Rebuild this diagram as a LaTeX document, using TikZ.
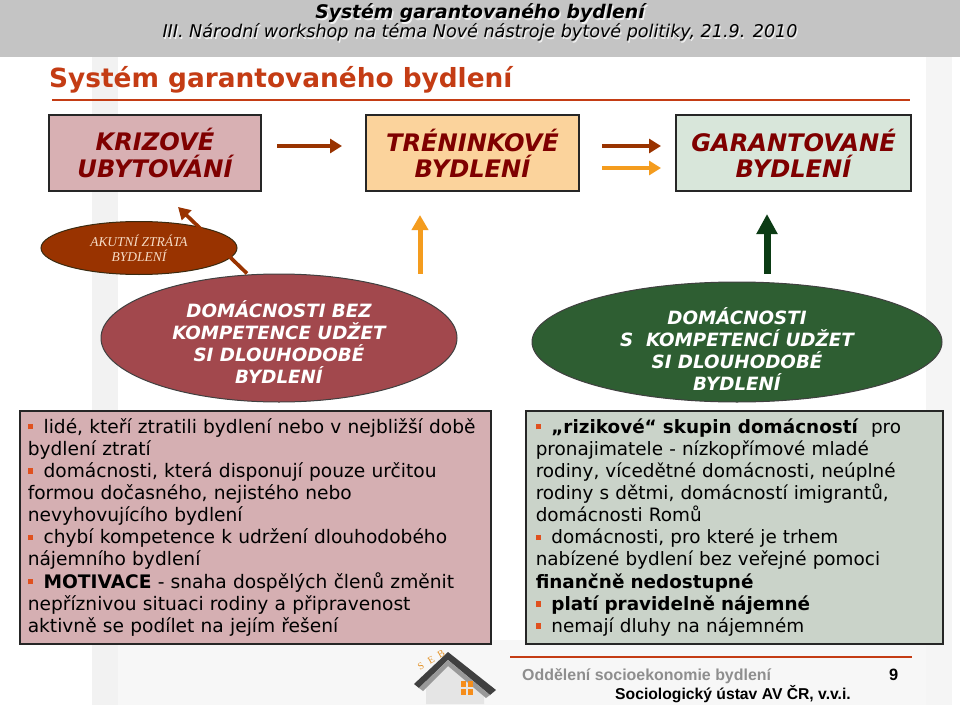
\documentclass[tikz,border=0pt]{standalone}
\usepackage{fontspec}
\setmainfont{DejaVu Sans}
\newfontfamily\arialf{Liberation Sans}
\newfontfamily\timesf{Liberation Serif}
\usetikzlibrary{shapes.geometric,arrows.meta,calc}
\definecolor{hdrgray}{HTML}{C4C4C4}
\definecolor{titleor}{HTML}{C43C14}
\definecolor{darkred}{HTML}{7F0000}
\definecolor{krizf}{HTML}{D8B0B3}
\definecolor{trenf}{HTML}{FBD39C}
\definecolor{garf}{HTML}{D8E6DA}
\definecolor{arrbrown}{HTML}{993300}
\definecolor{arrorange}{HTML}{F49C1E}
\definecolor{arrgreen}{HTML}{0B3B14}
\definecolor{akutf}{HTML}{993300}
\definecolor{akutb}{HTML}{3A2A10}
\definecolor{akutt}{HTML}{F6DCC6}
\definecolor{bezf}{HTML}{A2484D}
\definecolor{grnf}{HTML}{2E5E32}
\definecolor{lboxf}{HTML}{D5AFB2}
\definecolor{rboxf}{HTML}{CAD3C9}
\definecolor{bulc}{HTML}{E0501E}
\definecolor{footgray}{HTML}{8E8E8E}
\newcommand\bul{\textcolor{bulc}{\rule[0.2em]{0.3em}{0.3em}}\hspace{0.55em}}
\begin{document}
\begin{tikzpicture}[x=0.03cm,y=-0.03cm,
  hdrtitle/.style={font=\fontsize{16}{18}\selectfont\bfseries\itshape, inner sep=0pt},
  hdrsub/.style={font=\fontsize{15}{17}\selectfont\itshape, inner sep=0pt},
  stagebox/.style={draw=black!85, line width=0.06cm, align=center, text=darkred,
    font=\fontsize{20.6}{22.5}\selectfont\bfseries\itshape, inner sep=0pt,
    minimum height=76*0.03cm},
  ellnode/.style={ellipse, inner sep=0pt, line width=0.03cm},
  elltext/.style={align=center, text=white, inner sep=0pt,
    font=\fontsize{15.6}{19}\selectfont\bfseries\itshape},
  infobox/.style={draw=black!85, line width=0.045cm, align=left, anchor=north west,
    minimum height=233*0.03cm, inner ysep=0pt},
  brownarr/.style={draw=arrbrown, line width=0.12cm, -{Triangle[length=0.36cm,width=0.42cm]}},
  orangearr/.style={draw=arrorange, line width=0.12cm, -{Triangle[length=0.36cm,width=0.42cm]}},
  footer/.style={inner sep=0pt, anchor=base west},
  seblet/.style={inner sep=0pt, rotate=30, text=arrorange!70!brown, font=\timesf\fontsize{8.5}{9}\selectfont}
]
\useasboundingbox (0,0) rectangle (960,705);
\fill[white] (0,0) rectangle (960,705);
% faint background
\fill[black!5] (92,57) rectangle (118,705);
\fill[black!4] (926,57) rectangle (952,705);
\fill[black!3] (118,640) rectangle (926,705);
% header band
\fill[hdrgray] (0,0) rectangle (960,57);
\node[hdrtitle, anchor=base, text=white!90!gray] (hts) at (481.5,20.5) {Systém garantovaného bydlení};
\node[hdrtitle, anchor=base] (ht) at (480,19) {Systém garantovaného bydlení};
\node[hdrsub, anchor=base, text=white!90!gray] (hss) at (481.2,39.2) {III. Národní workshop na téma Nové nástroje bytové politiky, 21.9. 2010};
\node[hdrsub, anchor=base] (hs) at (480,38) {III. Národní workshop na téma Nové nástroje bytové politiky, 21.9. 2010};
% page title
\node[anchor=base west, inner sep=0pt, text=titleor, font=\fontsize{22.5}{26}\selectfont\bfseries] (title) at (49,88) {Systém garantovaného bydlení};
\draw[titleor, line width=0.08cm] (52,100) -- (910,100);
% stage boxes
\node[stagebox, fill=krizf, minimum width=212*0.03cm] (kriz) at (155,153) {KRIZOVÉ\\UBYTOVÁNÍ};
\node[stagebox, fill=trenf, minimum width=213*0.03cm] (tren) at (472.5,153) {TRÉNINKOVÉ\\BYDLENÍ};
\node[stagebox, fill=garf, minimum width=235*0.03cm] (gar) at (793.5,153) {GARANTOVANÉ\\BYDLENÍ};
% horizontal arrows
\draw[brownarr] ($(kriz.east)+(15,-7)$) -- ($(tren.west)+(-23,-7)$);
\draw[brownarr] ($(tren.east)+(22,-7)$) -- ($(gar.west)+(-14,-7)$);
\draw[orangearr] ($(tren.east)+(22,15)$) -- ($(gar.west)+(-14,15)$);
% ellipses
\node[ellnode, fill=akutf, draw=akutb, minimum width=196*0.03cm, minimum height=53*0.03cm,
  align=center, text=akutt, font=\timesf\fontsize{11.5}{13}\selectfont\itshape] (akut) at (139,248) {AKUTNÍ ZTRÁTA\\BYDLENÍ};
\node[ellnode, fill=bezf, draw=black!75, minimum width=356*0.03cm, minimum height=128*0.03cm] (bez) at (279,338) {};
\node[elltext] (bezt) at (279,342) {DOMÁCNOSTI BEZ\\KOMPETENCE UDŽET\\SI DLOUHODOBÉ\\BYDLENÍ};
\node[ellnode, fill=grnf, draw=black!75, minimum width=410*0.03cm, minimum height=120*0.03cm] (grn) at (737,342) {};
\node[elltext] (grnt) at (737,349) {DOMÁCNOSTI\\S\ \ KOMPETENCÍ UDŽET\\SI DLOUHODOBÉ\\BYDLENÍ};
% vertical / diagonal arrows
\draw[draw=arrbrown, line width=0.11cm, -{Triangle[length=0.36cm,width=0.4cm]}] ($(bez.north)+(-32,0)$) -- ($(kriz.south)+(23,15)$);
\draw[draw=arrorange, line width=0.15cm, -{Triangle[length=0.45cm,width=0.48cm]}] ($(bez.north)+(141,0)$) -- ($(tren.south)+(-52.5,23)$);
\draw[draw=arrgreen, line width=0.21cm, -{Triangle[length=0.6cm,width=0.6cm]}] ($(grn.north)+(30,-8)$) -- ($(gar.south)+(-26.5,22)$);
% info boxes
\node[infobox, fill=lboxf, text width=455*0.03cm, inner xsep=8*0.03cm,
  font=\fontsize{15.9}{18.9}\selectfont] (lbox) at (19,410) {%
\bul lidé, kteří ztratili bydlení nebo v nejbližší době\\
bydlení ztratí\\
\bul domácnosti, která disponují pouze určitou\\
formou dočasného, nejistého nebo\\
nevyhovujícího bydlení\\
\bul chybí kompetence k udržení dlouhodobého\\
nájemního bydlení\\
\bul \textbf{MOTIVACE} - snaha dospělých členů změnit\\
nepříznivou situaci rodiny a připravenost\\
aktivně se podílet na jejím řešení};
\node[infobox, fill=rboxf, text width=397*0.03cm, inner xsep=10*0.03cm,
  font=\fontsize{15.7}{18.9}\selectfont] (rbox) at (525,410) {%
\bul \textbf{„rizikové“ skupin domácností}\ \ pro\\
pronajimatele - nízkopřímové mladé\\
rodiny, vícedětné domácnosti, neúplné\\
rodiny s dětmi, domácností imigrantů,\\
domácnosti Romů\\
\bul domácnosti, pro které je trhem\\
nabízené bydlení bez veřejné pomoci\\
\textbf{finančně nedostupné}\\
\bul \textbf{platí pravidelně nájemné}\\
\bul nemají dluhy na nájemném};
% footer
\draw[titleor, line width=0.06cm] (510,657) -- (912,657);
\node[footer, text=footgray, font=\arialf\fontsize{13.6}{16}\selectfont\bfseries] (dept) at (522,680) {Oddělení socioekonomie bydlení};
\node[footer, font=\arialf\fontsize{14}{16}\selectfont\bfseries] (pnum) at (889,680) {9};
\node[footer, font=\arialf\fontsize{13.4}{15}\selectfont\bfseries] (inst) at (615,699) {Sociologický ústav AV ČR, v.v.i.};
% SEB logo
\fill[black!10] (426,704) -- (426,684) -- (450,662) -- (484,692) -- (484,704) -- cycle;
\fill[black!75] (414,684) -- (448,652) -- (496,690) -- (490,695) -- (448,660) -- (419,688) -- cycle;
\fill[black!40] (419,688) -- (448,660) -- (490,695) -- (486,698) -- (448,666) -- (423,691) -- cycle;
\fill[arrorange!90!red] (461,681) rectangle (466,687);
\fill[arrorange!90!red] (468,681) rectangle (473,687);
\fill[arrorange!90!red] (461,689) rectangle (466,695);
\fill[arrorange!90!red] (468,689) rectangle (473,695);
\node[seblet] (sebs) at (421,666) {S};
\node[seblet] (sebe) at (431,660) {E};
\node[seblet] (sebb) at (441,654) {B};
\end{tikzpicture}
\end{document}
